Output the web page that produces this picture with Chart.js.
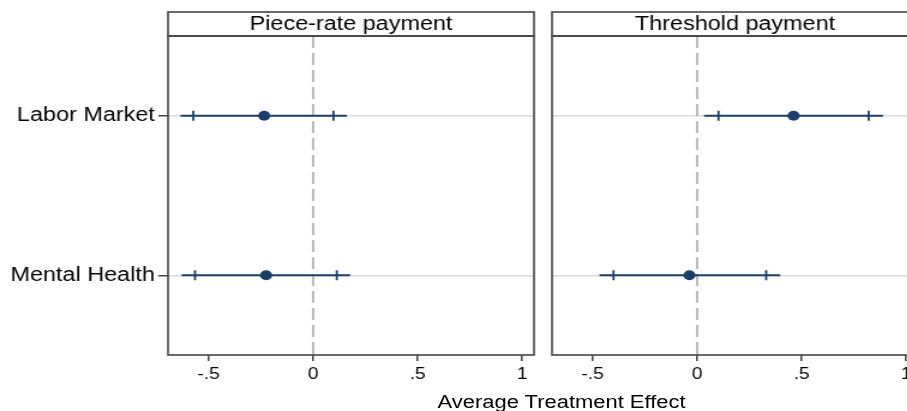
<!DOCTYPE html>
<html>
<head>
<meta charset="utf-8">
<script src="https://cdn.jsdelivr.net/npm/chart.js@4.4.1/dist/chart.umd.min.js"></script>
<style>
  html, body { margin: 0; padding: 0; overflow: hidden; background: #fff; }
  /* the source image is stretched sideways, so the whole figure is too */
  #figure { position: absolute; left: 0; top: 0; width: 780px; height: 411px; transform: scaleX(1.2); transform-origin: 0 0; }
  .panel { position: absolute; top: 0; height: 411px; }
  #panel-a { left: 0; width: 455px; }
  #panel-b { left: 450px; width: 330px; }
  #xtitle { position: absolute; left: 318px; width: 300px; top: 392px; text-align: center;
            font: 18.3px "Liberation Sans", Arial, sans-serif; line-height: 19px; color: #000; }
</style>
</head>
<body>
<div id="figure">
  <div class="panel" id="panel-a"><canvas id="chart-a"></canvas></div>
  <div class="panel" id="panel-b"><canvas id="chart-b"></canvas></div>
  <div id="xtitle">Average Treatment Effect</div>
</div>
<script>
const categories = ['Labor Market', 'Mental Health'];
const panelTitles = ['Piece-rate payment', 'Threshold payment'];

const pieceEstimate = [-0.234, -0.225];
const pieceLow95 = [-0.634, -0.629];
const pieceHigh95 = [0.161, 0.177];
const pieceLow90 = [-0.573, -0.565];
const pieceHigh90 = [0.097, 0.113];

const thresholdEstimate = [0.461, -0.037];
const thresholdLow95 = [0.033, -0.467];
const thresholdHigh95 = [0.888, 0.397];
const thresholdLow90 = [0.102, -0.400];
const thresholdHigh90 = [0.820, 0.330];

const xTicks = [-0.5, 0, 0.5, 1];
const xTickLabels = ['-.5', '0', '.5', '1'];

const FONT = '"Liberation Sans", Arial, sans-serif';
const NAVY = '#1a3f69';
const FRAME = '#444';

Chart.defaults.font.family = FONT;
Chart.defaults.color = '#000';

const panelFrame = {
  id: 'panelFrame',
  afterDraw(chart, args, opts) {
    const {ctx, chartArea: a} = chart;
    ctx.save();
    ctx.strokeStyle = FRAME;
    ctx.lineWidth = 1.6;
    ctx.strokeRect(a.left, a.top, a.right - a.left, a.bottom - a.top);
    ctx.strokeRect(a.left, 12, a.right - a.left, a.top - 12);
    ctx.fillStyle = '#000';
    ctx.font = '19.5px ' + FONT;
    ctx.textAlign = 'center';
    ctx.textBaseline = 'alphabetic';
    ctx.fillText(opts.title, (a.left + a.right) / 2, 30);
    ctx.restore();
  }
};

function makePanel(id, title, est, lo95, hi95, lo90, hi90, showLabels) {
  const rows = categories.map((c, i) => i + 1);
  const ciSets = rows.map((y, i) => ({
    data: [{x: lo95[i], y: y}, {x: hi95[i], y: y}],
    showLine: true, borderColor: NAVY, borderWidth: 2, pointRadius: 0, order: 3
  }));
  const innerTicks = [];
  rows.forEach((y, i) => {
    innerTicks.push({x: lo90[i], y: y}, {x: hi90[i], y: y});
  });

  return new Chart(document.getElementById(id), {
    type: 'scatter',
    data: {
      datasets: [
        {
          data: [{x: 0, y: 0.5}, {x: 0, y: 2.5}],
          showLine: true, borderColor: '#b8b8b8', borderWidth: 2, borderDash: [12, 5],
          pointRadius: 0, order: 5
        },
        ...ciSets,
        {
          data: innerTicks, pointStyle: 'line', rotation: 90, pointRadius: 5,
          borderColor: NAVY, borderWidth: 1.8, order: 2
        },
        {
          data: est.map((v, i) => ({x: v, y: rows[i]})),
          pointRadius: 5, backgroundColor: NAVY, borderColor: NAVY, borderWidth: 0, order: 1
        }
      ]
    },
    options: {
      responsive: true,
      maintainAspectRatio: false,
      animation: false,
      layout: {padding: {top: 36, right: showLabels ? 10 : 15, bottom: 0, left: 0}},
      plugins: {legend: {display: false}, tooltip: {enabled: false}, panelFrame: {title: title}},
      scales: {
        x: {
          type: 'linear', min: -0.694, max: 1.056,
          afterBuildTicks: s => { s.ticks = xTicks.map(v => ({value: v})); },
          afterFit: s => { s.height = 56; },
          border: {display: false},
          grid: {drawOnChartArea: false, drawTicks: true, tickLength: 6, tickColor: FRAME, lineWidth: 1.5},
          ticks: {
            font: {size: 16}, padding: 4, maxRotation: 0,
            callback: v => xTickLabels[xTicks.indexOf(v)]
          }
        },
        y: {
          type: 'linear', min: 0.5, max: 2.5, reverse: true,
          afterBuildTicks: s => { s.ticks = rows.map(v => ({value: v})); },
          afterFit: s => { s.width = showLabels ? 140 : 10; },
          border: {display: false},
          grid: {color: '#dcdcdc', lineWidth: 1.5, drawTicks: showLabels, tickLength: 8, tickColor: FRAME},
          ticks: {
            display: showLabels, font: {size: 19.5}, padding: 3,
            callback: v => categories[v - 1]
          }
        }
      }
    },
    plugins: [panelFrame]
  });
}

makePanel('chart-a', panelTitles[0], pieceEstimate, pieceLow95, pieceHigh95, pieceLow90, pieceHigh90, true);
makePanel('chart-b', panelTitles[1], thresholdEstimate, thresholdLow95, thresholdHigh95, thresholdLow90, thresholdHigh90, false);
</script>
</body>
</html>
